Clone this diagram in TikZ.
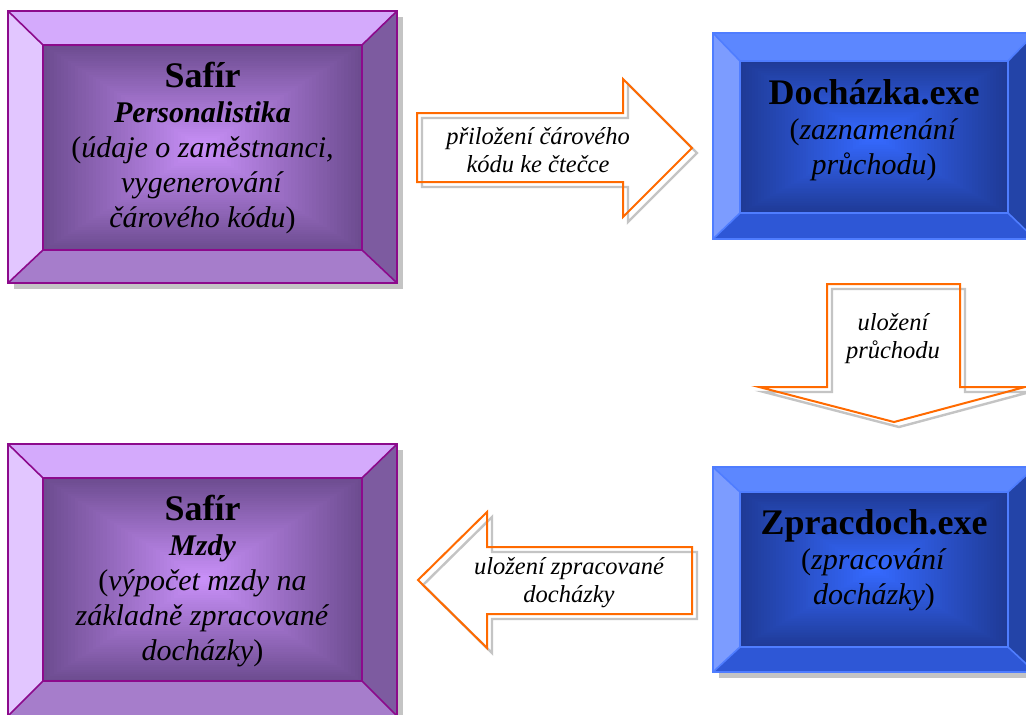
\documentclass[tikz,border=0pt]{standalone}
\usepackage{fontspec}
\setmainfont{Liberation Serif}[
  UprightFont={Liberation Serif},
  BoldFont={Liberation Serif Bold},
  ItalicFont={Liberation Serif Italic},
  BoldItalicFont={Liberation Serif Bold Italic}]
\definecolor{pTop}{HTML}{D4AAFC}
\definecolor{pLeft}{HTML}{E2C6FF}
\definecolor{pRight}{HTML}{7D5BA0}
\definecolor{pBot}{HTML}{A67DCB}
\definecolor{pEdge}{HTML}{6D4C90}
\definecolor{pMid}{HTML}{C890F8}
\definecolor{pBorder}{HTML}{8C0A8C}
\definecolor{bTop}{HTML}{5C87FF}
\definecolor{bLeft}{HTML}{7C9CFF}
\definecolor{bRight}{HTML}{2344A8}
\definecolor{bBot}{HTML}{2E57D6}
\definecolor{bEdge}{HTML}{1F3A96}
\definecolor{bMid}{HTML}{3569FF}
\definecolor{bBorder}{HTML}{4F7DFF}
\definecolor{arrOrange}{HTML}{FF6A00}
\definecolor{shadowGray}{HTML}{C4C4C4}
% #1..#4 outer x1 y1 x2 y2, #5..#8 inner x1 y1 x2 y2, #9 colour prefix
\newcommand\BevelBox[9]{%
  \fill[#9Top] (#1,#2) -- (#3,#2) -- (#7,#6) -- (#5,#6) -- cycle;
  \fill[#9Left] (#1,#2) -- (#5,#6) -- (#5,#8) -- (#1,#4) -- cycle;
  \fill[#9Right] (#3,#2) -- (#3,#4) -- (#7,#8) -- (#7,#6) -- cycle;
  \fill[#9Bot] (#1,#4) -- (#5,#8) -- (#7,#8) -- (#3,#4) -- cycle;
  \pgfmathsetmacro\bxc{(#5+#7)/2}\pgfmathsetmacro\byc{(#6+#8)/2}%
  \pgfmathsetmacro\bhw{(#7-#5)/2}\pgfmathsetmacro\bhh{(#8-#6)/2}%
  \foreach \i in {0,...,44}{%
    \pgfmathsetmacro\pp{\i*100/44}%
    \pgfmathsetmacro\ff{1-\i/45}%
    \fill[#9Mid!\pp!#9Edge] (\bxc-\bhw*\ff,\byc-\bhh*\ff) rectangle (\bxc+\bhw*\ff,\byc+\bhh*\ff);
  }
  \draw[#9Border, line width=1.6pt, line join=miter]
    (#1,#2) rectangle (#3,#4) (#5,#6) rectangle (#7,#8)
    (#1,#2) -- (#5,#6) (#3,#2) -- (#7,#6) (#1,#4) -- (#5,#8) (#3,#4) -- (#7,#8);
}
\tikzset{
  boxtext/.style={inner sep=0pt, align=center, font=\fontsize{30}{35}\selectfont},
  arrtext/.style={inner sep=0pt, align=center, font=\fontsize{24.5}{28}\selectfont\itshape},
  arrline/.style={draw=arrOrange, line width=2pt, line join=miter},
  arrshadow/.style={draw=shadowGray, line width=2.4pt, line join=miter},
  boxshadow/.style={fill=shadowGray}
}
\def\arrowA{(417,113) -- (623,113) -- (623,79) -- (692,148) -- (623,217) -- (623,182) -- (417,182) -- cycle}
\def\arrowB{(827,284) -- (960,284) -- (960,387) -- (1025,387) -- (894,422) -- (759,387) -- (827,387) -- cycle}
\def\arrowC{(692,547) -- (487,547) -- (487,512) -- (418,580) -- (487,648) -- (487,614) -- (692,614) -- cycle}
\begin{document}
\begin{tikzpicture}[x=1pt,y=-1pt]
\clip (0,0) rectangle (1026,715);
\fill[white] (0,0) rectangle (1026,715);
% shadows of boxes
\fill[boxshadow] (14,17) rectangle (403,289);
\fill[boxshadow] (14,450) rectangle (403,722);
\fill[boxshadow] (719,472) rectangle (1040,678);
% boxes
\BevelBox{8}{11}{397}{283}{43}{45}{362}{250}{p}
\BevelBox{8}{444}{397}{716}{43}{478}{362}{681}{p}
\BevelBox{713}{33}{1035}{239}{740}{61}{1008}{213}{b}
\BevelBox{713}{467}{1035}{672}{740}{492}{1008}{647}{b}
% arrow shadows
\begin{scope}[shift={(5,5)}]
  \draw[arrshadow] \arrowA;
  \draw[arrshadow] \arrowB;
  \draw[arrshadow] \arrowC;
\end{scope}
% arrows
\draw[arrline] \arrowA;
\draw[arrline] \arrowB;
\draw[arrline] \arrowC;
% texts
\node[boxtext] (personal) at (202.5,148) {{\fontsize{36}{35}\selectfont\bfseries Safír}\\
  {\bfseries\itshape Personalistika}\\(\textit{údaje o zaměstnanci,}\\\textit{vygenerování}\\\textit{čárového kódu})};
\node[boxtext] (mzdy) at (202.5,581) {{\fontsize{36}{35}\selectfont\bfseries Safír}\\
  {\bfseries\itshape Mzdy}\\(\textit{výpočet mzdy na}\\\textit{základně zpracované}\\\textit{docházky})};
\node[boxtext] (dochazka) at (874,130) {{\fontsize{36}{35}\selectfont\bfseries Docházka.exe}\\
  (\textit{zaznamenání}\\\textit{průchodu})};
\node[boxtext] (zpracdoch) at (874,560) {{\fontsize{36}{35}\selectfont\bfseries Zpracdoch.exe}\\
  (\textit{zpracování}\\\textit{docházky})};
\node[arrtext] (labA) at (538,150) {přiložení čárového\\kódu ke čtečce};
\node[arrtext] (labB) at (893,339) {uložení\\průchodu};
\node[arrtext] (labC) at (569,583) {uložení zpracované\\docházky};
\end{tikzpicture}
\end{document}
